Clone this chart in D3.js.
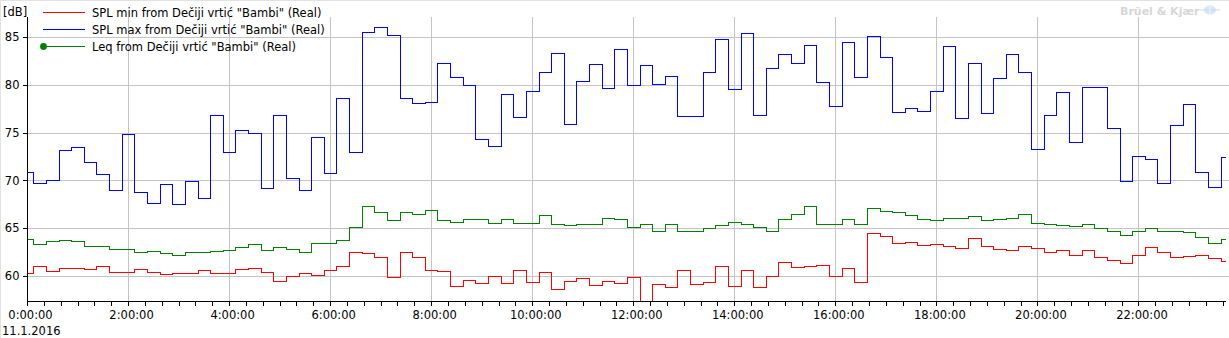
<!DOCTYPE html>
<html>
<head>
<meta charset="utf-8">
<script src="https://cdn.jsdelivr.net/npm/d3@7"></script>
<style>
	body { margin: 0; background: #fff; }
	svg { display: block; font-family: "DejaVu Sans", sans-serif; font-size: 11.5px; }
	.grid line { stroke: #c4c4c4; stroke-width: 1; shape-rendering: crispEdges; }
	.axis path, .axis line { stroke: #000; shape-rendering: crispEdges; }
	.axis text { font-family: "DejaVu Sans", sans-serif; font-size: 11.5px; fill: #000; }
	.series { fill: none; stroke-width: 1; shape-rendering: crispEdges; }
</style>
</head>
<body>
<svg id="chart" width="1229" height="338"></svg>
<script>
// readings every 15 minutes starting at 0:00:00
var stepMinutes = 15;
var dateLabel = "11.1.2016";
var yUnit = "[dB]";

var seriesNames = [
	'SPL min from Dečiji vrtić "Bambi" (Real)',
	'SPL max from Dečiji vrtić "Bambi" (Real)',
	'Leq from Dečiji vrtić "Bambi" (Real)'
];
var seriesColors = ["#ff0000", "#0000ff", "#008000"];

var splMin = [
	60.3, 61.0, 60.5, 60.8, 60.8, 60.7, 61.0, 60.4, 60.4, 60.7, 60.4, 60.2, 60.3, 60.3, 60.6, 60.3,
	60.3, 60.7, 60.8, 60.4, 59.5, 60.0, 60.3, 60.1, 60.6, 61.0, 62.5, 62.4, 62.0, 59.9, 62.5, 62.0,
	60.6, 60.5, 59.0, 59.6, 59.3, 60.0, 59.3, 60.6, 59.4, 60.4, 58.65, 59.5, 59.8, 59.1, 59.5, 59.3,
	59.9, 56.5, 59.2, 58.9, 60.6, 59.2, 59.4, 61.0, 59.0, 60.6, 58.9, 60.0, 61.45, 60.9, 61.0, 61.1,
	60.0, 60.8, 59.4, 64.5, 64.2, 63.4, 63.6, 63.2, 63.3, 63.1, 62.9, 63.95, 63.1, 62.8, 62.7, 63.1,
	62.9, 62.5, 62.7, 62.2, 62.7, 62.0, 61.7, 61.4, 62.2, 63.0, 62.5, 62.0, 62.1, 62.2, 61.9, 61.6
];
var splMax = [
	70.9, 69.7, 70.0, 73.2, 73.5, 71.9, 70.7, 69.0, 74.9, 68.8, 67.6, 69.6, 67.5, 69.9, 68.2, 76.8,
	73.0, 75.3, 75.0, 69.2, 76.8, 70.2, 69.0, 74.5, 70.8, 78.6, 73.0, 85.5, 86.0, 85.2, 78.6, 78.1,
	78.2, 82.3, 80.8, 80.0, 74.3, 73.6, 79.0, 76.6, 79.3, 81.3, 83.3, 75.9, 80.4, 82.2, 79.7, 83.7,
	80.0, 82.1, 80.1, 80.9, 76.7, 76.7, 81.3, 84.8, 79.6, 85.4, 76.8, 81.8, 83.2, 82.3, 84.2, 80.3,
	77.8, 84.5, 80.8, 85.1, 82.9, 77.2, 77.6, 77.3, 79.3, 84.1, 76.5, 82.3, 77.1, 80.7, 83.2, 81.3,
	73.3, 76.8, 79.2, 74.0, 79.8, 79.8, 75.5, 69.9, 72.6, 72.2, 69.7, 75.8, 78.0, 70.9, 69.3, 72.4
];
var leq = [
	63.9, 63.3, 63.7, 63.8, 63.7, 63.1, 63.1, 62.85, 62.85, 62.5, 62.6, 62.4, 62.2, 62.5, 62.5, 62.6,
	62.7, 63.0, 63.3, 62.7, 63.0, 62.8, 62.5, 63.5, 63.4, 63.75, 65.1, 67.3, 66.7, 65.9, 66.7, 66.5,
	66.9, 65.9, 65.6, 66.0, 66.0, 65.5, 66.0, 65.5, 65.5, 66.35, 65.4, 65.3, 65.4, 65.4, 66.1, 66.0,
	65.1, 65.4, 64.7, 65.4, 64.7, 64.7, 65.0, 65.3, 65.6, 65.4, 65.1, 64.7, 66.0, 66.5, 67.3, 65.4,
	65.4, 66.0, 65.4, 67.1, 66.8, 66.7, 66.35, 66.0, 65.9, 66.1, 66.1, 66.25, 65.9, 66.0, 66.1, 66.5,
	65.5, 65.4, 65.3, 65.2, 65.4, 65.0, 64.7, 64.3, 64.7, 65.0, 64.7, 64.7, 64.6, 64.1, 63.5, 63.85
];

var xTickHours = [0, 2, 4, 6, 8, 10, 12, 14, 16, 18, 20, 22];
var xTickLabels = ["0:00:00", "2:00:00", "4:00:00", "6:00:00", "8:00:00", "10:00:00",
	"12:00:00", "14:00:00", "16:00:00", "18:00:00", "20:00:00", "22:00:00"];
var yTicks = [60, 65, 70, 75, 80, 85];

(function(){

	var svg = d3.select("#chart"),
		plot = {left: 27.5, right: 1225.5, top: 17, bottom: 301.5};

	// hours on x, dB on y
	var x = d3.scaleLinear().domain([0, 23.713]).range([plot.left, plot.right]);
	var y = d3.scaleLinear().domain([57.385, 87.144]).range([plot.bottom, plot.top]);

	// window edge, left and top only
	svg.append("path")
		.attr("d", "M0.5,338V0.5H1229")
		.attr("fill", "none")
		.attr("stroke", "#e2e2e2");

	svg.append("defs").append("clipPath")
		.attr("id", "plot-clip")
		.append("rect")
		.attr("x", plot.left - 0.5)
		.attr("y", plot.top)
		.attr("width", plot.right - plot.left + 1)
		.attr("height", plot.bottom - plot.top);

	// grid
	var grid = svg.append("g").attr("class", "grid");

	grid.selectAll(".hgrid")
		.data(yTicks)
		.enter()
		.append("line")
		.attr("x1", plot.left)
		.attr("x2", 1229)
		.attr("y1", function(d){ return y(d); })
		.attr("y2", function(d){ return y(d); });

	grid.selectAll(".vgrid")
		.data(xTickHours.filter(function(d){ return d > 0; }))
		.enter()
		.append("line")
		.attr("x1", function(d){ return x(d); })
		.attr("x2", function(d){ return x(d); })
		.attr("y1", plot.top)
		.attr("y2", plot.bottom);

	// series
	var series = [splMin, splMax, leq];
	var line = d3.line()
		.x(function(d, i){ return x(i * stepMinutes / 60); })
		.y(function(d){ return y(d); })
		.curve(d3.curveStep);

	svg.append("g")
		.attr("clip-path", "url(#plot-clip)")
		.selectAll(".series")
		.data(series)
		.enter()
		.append("path")
		.attr("class", "series")
		.attr("stroke", function(d, i){ return seriesColors[i]; })
		.attr("d", line);

	// axes
	var minorHours = d3.range(0, 23.7, 1 / 3);

	svg.append("g")
		.attr("class", "axis")
		.attr("transform", "translate(0," + plot.bottom + ")")
		.call(d3.axisBottom(x).offset(0).tickValues(minorHours).tickSize(4).tickSizeOuter(0).tickFormat(""));

	var xAxis = svg.append("g")
		.attr("class", "axis")
		.attr("transform", "translate(0," + plot.bottom + ")")
		.call(d3.axisBottom(x).offset(0).tickValues(xTickHours).tickSize(4).tickSizeOuter(0).tickPadding(5)
			.tickFormat(function(d, i){ return xTickLabels[i]; }));
	xAxis.attr("font-size", null).attr("font-family", null);
	xAxis.selectAll("text").attr("dx", 3);

	var yAxis = svg.append("g")
		.attr("class", "axis")
		.attr("transform", "translate(" + plot.left + ",0)")
		.call(d3.axisLeft(y).offset(0).tickValues(yTicks).tickSize(5).tickSizeOuter(0).tickPadding(3));
	yAxis.attr("font-size", null).attr("font-family", null);

	svg.append("text")
		.attr("x", 3)
		.attr("y", 16)
		.text(yUnit);

	svg.append("text")
		.attr("x", 2)
		.attr("y", 334.5)
		.text(dateLabel);

	// legend
	var legend = svg.append("g")
		.selectAll(".legend")
		.data(seriesNames)
		.enter()
		.append("g")
		.attr("transform", function(d, i){ return "translate(0," + (12.5 + i * 17) + ")"; });

	legend.append("line")
		.attr("x1", 43).attr("x2", 85)
		.attr("stroke", function(d, i){ return seriesColors[i]; })
		.attr("shape-rendering", "crispEdges");

	legend.filter(function(d, i){ return i == 2; })
		.append("circle")
		.attr("cx", 43.5)
		.attr("r", 3.4)
		.attr("fill", seriesColors[2]);

	legend.append("text")
		.attr("x", 92)
		.attr("y", 4)
		.text(function(d){ return d; });

	// brand mark, top right
	svg.append("text")
		.attr("x", 1120)
		.attr("y", 15)
		.attr("font-weight", "bold")
		.attr("font-size", "11px")
		.attr("fill", "#d6d6d6")
		.text("Brüel & Kjær");

	var logo = svg.append("g").attr("transform", "translate(1210,10)");
	logo.append("ellipse").attr("rx", 6).attr("ry", 4.5).attr("fill", "#dbe4f3");
	logo.append("line").attr("x1", -10).attr("x2", 10).attr("stroke", "#c9d6ee");
	logo.append("line").attr("y1", -4.5).attr("y2", 4.5).attr("stroke", "#f4f7fc");

})();
</script>
</body>
</html>
